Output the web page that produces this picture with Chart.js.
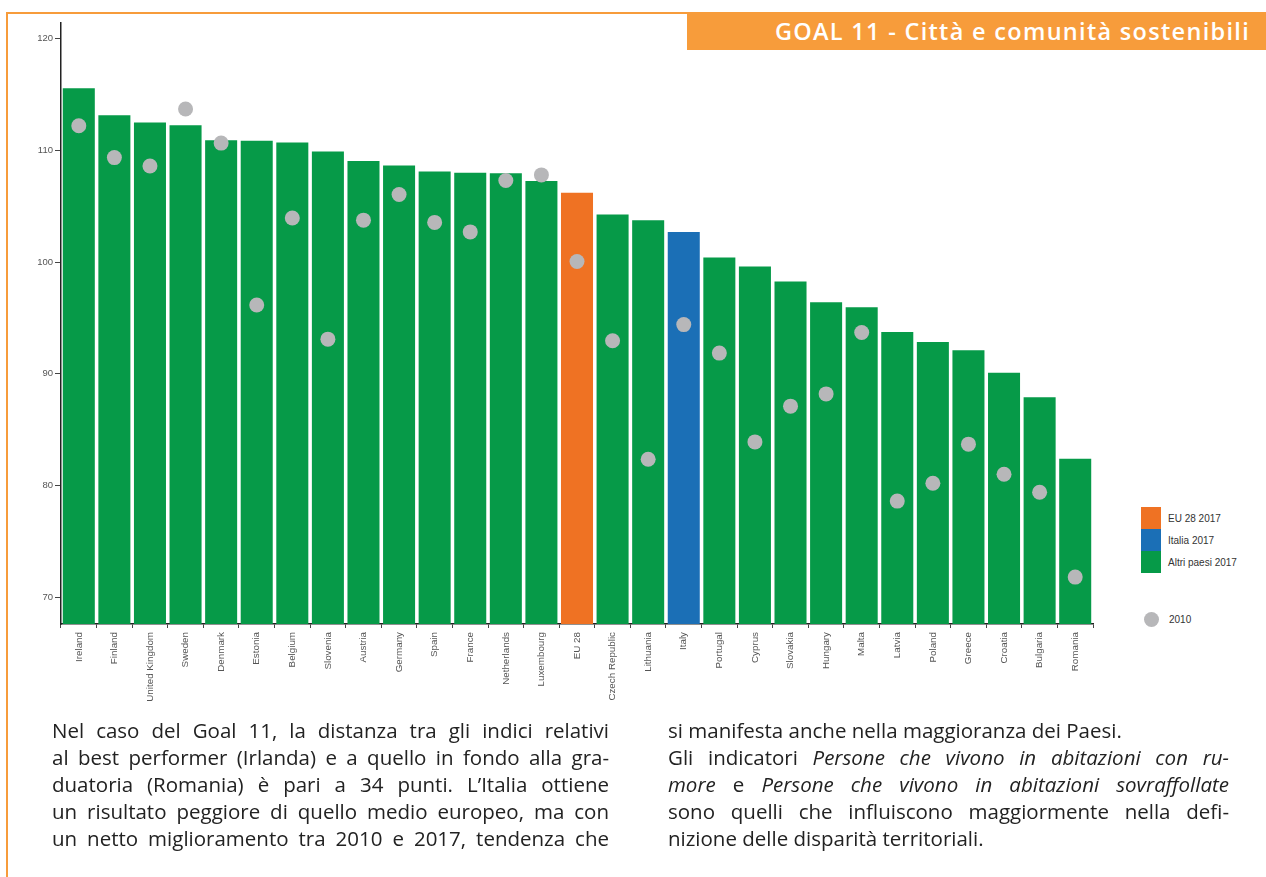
<!DOCTYPE html>
<html>
<head>
<meta charset="utf-8">
<script src="https://cdn.jsdelivr.net/npm/chart.js@4"></script>
<style>
  html, body { margin: 0; padding: 0; background: #fff; }
  body { width: 1266px; height: 877px; position: relative; overflow: hidden; font-family: 'Open Sans', 'Noto Sans', sans-serif; }
  .frame-top { position: absolute; left: 6px; top: 12px; width: 682px; height: 2px; background: #f79c3b; }
  .frame-left { position: absolute; left: 6px; top: 12px; width: 2px; height: 865px; background: #f79c3b; }
  .header { position: absolute; left: 687px; top: 12px; width: 579px; height: 38px; background: #f79c3b;
            color: #fff; font-weight: 600; font-size: 23.5px; letter-spacing: 1.3px; line-height: 38px; text-align: right;
            box-sizing: border-box; padding-right: 16px; white-space: nowrap; }
  #chart { position: absolute; left: 0; top: 0; }
  .legend { position: absolute; left: 1141px; top: 507px; font-family: 'Liberation Sans', Arial, sans-serif; font-size: 10px; color: #333; }
  .legend .row { height: 22px; display: flex; align-items: center; }
  .legend .sw { width: 20px; height: 22px; margin-right: 7px; }
  .legend .dot { width: 15px; height: 15px; border-radius: 50%; margin: 0 10px 0 3px; }
  .text { position: absolute; top: 717px; font-size: 20.5px; line-height: 27px; color: #222; }
  .text div { text-align: justify; text-align-last: justify; white-space: nowrap; }
  .text div.end { text-align-last: left; }
  .col1 { left: 52px; width: 557px; }
  .col2 { left: 668px; width: 561px; }
</style>
</head>
<body>
<div class="frame-top"></div>
<div class="frame-left"></div>
<div class="header">GOAL 11 - Città e comunità sostenibili</div>
<canvas id="chart" width="1110" height="720"></canvas>
<div class="legend" id="legend"></div>
<div class="text col1">
  <div>Nel caso del Goal 11, la distanza tra gli indici relativi</div>
  <div>al best performer (Irlanda) e a quello in fondo alla gra-</div>
  <div>duatoria (Romania) è pari a 34 punti. L’Italia ottiene</div>
  <div>un risultato peggiore di quello medio europeo, ma con</div>
  <div>un netto miglioramento tra 2010 e 2017, tendenza che</div>
</div>
<div class="text col2">
  <div class="end">si manifesta anche nella maggioranza dei Paesi.</div>
  <div>Gli indicatori <i>Persone che vivono in abitazioni con ru-</i></div>
  <div><i>more</i> e <i>Persone che vivono in abitazioni sovraffollate</i></div>
  <div>sono quelli che influiscono maggiormente nella defi-</div>
  <div class="end">nizione delle disparità territoriali.</div>
</div>
<script>
// Paesi ordinati per indice composito 2017
const countries = ['Ireland', 'Finland', 'United Kingdom', 'Sweden', 'Denmark', 'Estonia', 'Belgium', 'Slovenia',
  'Austria', 'Germany', 'Spain', 'France', 'Netherlands', 'Luxembourg', 'EU 28', 'Czech Republic', 'Lithuania',
  'Italy', 'Portugal', 'Cyprus', 'Slovakia', 'Hungary', 'Malta', 'Latvia', 'Poland', 'Greece', 'Croatia',
  'Bulgaria', 'Romania'];

const values2017 = [115.55, 113.15, 112.5, 112.25, 110.9, 110.85, 110.7, 109.9, 109.05, 108.65, 108.1, 108.0,
  107.95, 107.25, 106.2, 104.25, 103.75, 102.7, 100.4, 99.6, 98.25, 96.4, 95.95, 93.75, 92.85, 92.1, 90.1,
  87.9, 82.4];

const values2010 = [112.2, 109.35, 108.6, 113.7, 110.65, 96.15, 103.95, 93.1, 103.75, 106.05, 103.55, 102.7,
  107.3, 107.8, 100.05, 92.95, 82.35, 94.4, 91.85, 83.9, 87.1, 88.2, 93.7, 78.6, 80.2, 83.7, 81.0,
  79.4, 71.8];

const yTicks = [70, 80, 90, 100, 110, 120];

const legendLabels = ['EU 28 2017', 'Italia 2017', 'Altri paesi 2017'];
const legendDotLabel = '2010';

// Colori
const GREEN = '#069a48';
const ORANGE = '#ef7223';
const BLUE = '#1b6fb6';
const GREY = '#b7b7b9';

const barColors = countries.map(c => c === 'EU 28' ? ORANGE : (c === 'Italy' ? BLUE : GREEN));

// Legenda a destra (quadrati + pallino)
const legend = document.getElementById('legend');
[ORANGE, BLUE, GREEN].forEach((col, i) => {
  const row = document.createElement('div');
  row.className = 'row';
  row.innerHTML = `<span class="sw" style="background:${col}"></span><span>${legendLabels[i]}</span>`;
  legend.appendChild(row);
});
const dotRow = document.createElement('div');
dotRow.className = 'row';
dotRow.style.marginTop = '35px';
dotRow.innerHTML = `<span class="dot" style="background:${GREY}"></span><span>${legendDotLabel}</span>`;
legend.appendChild(dotRow);

const tickFont = { family: "'Liberation Sans', Arial, sans-serif", size: 9.5 };

new Chart(document.getElementById('chart'), {
  type: 'bar',
  data: {
    labels: countries,
    datasets: [
      {
        type: 'line',
        label: '2010',
        data: values2010,
        showLine: false,
        pointRadius: 7.5,
        pointHoverRadius: 7.5,
        pointBackgroundColor: GREY,
        pointBorderWidth: 0,
        order: 0
      },
      {
        label: '2017',
        data: values2017,
        backgroundColor: barColors,
        borderWidth: 0,
        barPercentage: 0.9,
        categoryPercentage: 1.0,
        order: 1
      }
    ]
  },
  options: {
    responsive: false,
    animation: false,
    layout: { padding: { top: 23, right: 17, left: 0, bottom: 0 } },
    plugins: { legend: { display: false }, tooltip: { enabled: false } },
    scales: {
      x: {
        grid: { display: true, drawOnChartArea: false, drawTicks: true, tickLength: 4, color: '#444' },
        border: { display: true, color: '#222', width: 1.5 },
        ticks: { minRotation: 90, maxRotation: 90, autoSkip: false, padding: 4, color: '#555', font: { ...tickFont, size: 9.8 } },
        afterFit: (s) => { s.height = 96; }
      },
      y: {
        min: 67.6,
        max: 121.4,
        grid: { display: true, drawOnChartArea: false, drawTicks: true, tickLength: 6, color: '#444' },
        border: { display: true, color: '#222', width: 1.5 },
        ticks: { color: '#555', padding: 2, font: tickFont },
        afterBuildTicks: (s) => { s.ticks = yTicks.map(v => ({ value: v })); },
        afterFit: (s) => { s.width = 61; }
      }
    }
  }
});
</script>
</body>
</html>
